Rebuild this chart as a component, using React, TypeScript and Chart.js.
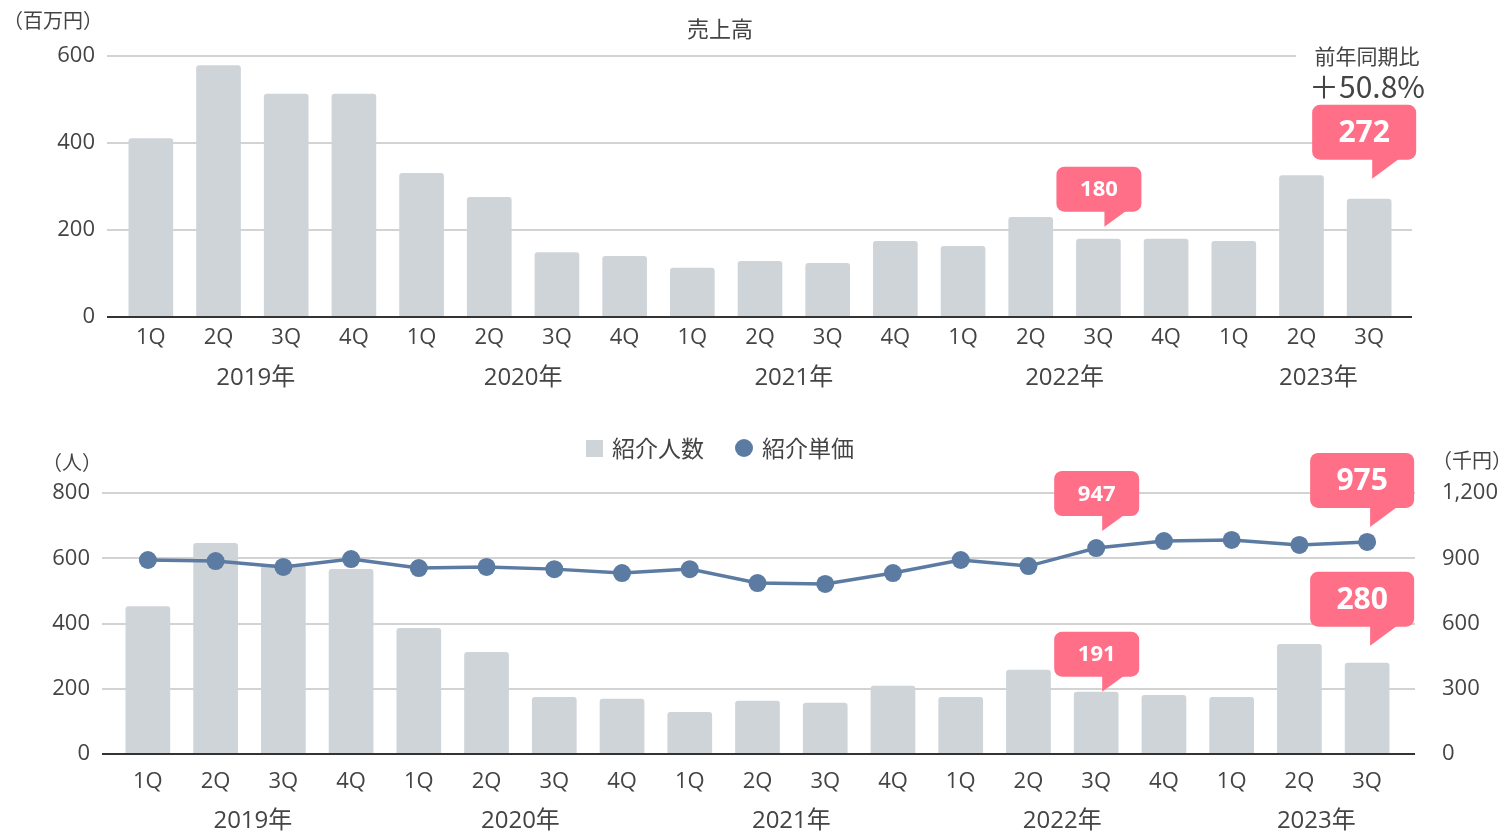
import React, { useEffect, useRef } from 'react';
import { Chart, registerables } from 'chart.js';

Chart.register(...registerables);

// ---------- data ----------
const quarters = ['1Q', '2Q', '3Q', '4Q', '1Q', '2Q', '3Q', '4Q', '1Q', '2Q', '3Q', '4Q', '1Q', '2Q', '3Q', '4Q', '1Q', '2Q', '3Q'];
const years = ['2019年', '2020年', '2021年', '2022年', '2023年'];
const yearCenters = [1.55, 5.5, 9.5, 13.5, 17.25];
const sales = [411, 579, 513, 513, 331, 276, 149, 140, 113, 129, 124, 175, 163, 230, 180, 180, 175, 326, 272];
const referrals = [453, 647, 582, 567, 386, 313, 175, 169, 129, 163, 157, 209, 175, 258, 191, 181, 175, 337, 280];
const unitPrice = [892, 887, 860, 896, 855, 860, 850, 832, 850, 786, 782, 832, 892, 864, 947, 979, 984, 961, 975];
const salesTicks = [0, 200, 400, 600];
const referralTicks = [0, 200, 400, 600, 800];
const priceTicks = [0, 300, 600, 900, 1200];

// ---------- style ----------
const FONT = '"Noto Sans CJK JP", "Noto Sans", sans-serif';
const NUM_FONT = '"Open Sans", "Noto Sans CJK JP", sans-serif';
const TEXT = '#444444';
const GRID = '#d3d3d3';
const AXIS = '#333333';
const BAR = '#cfd4d9';
const LINE = '#5b7ba2';
const PINK = '#ff6f88';

type Callout = { dataset: number; index: number; text: string; big: boolean; gap: number; dx: number };
type Label = { text: string; x: number; y: number; size: number; align?: CanvasTextAlign; bg?: number[]; family?: string };

function drawCallout(ctx: CanvasRenderingContext2D, x: number, y: number, text: string, big: boolean) {
  const w = big ? 104 : 85;
  const h = big ? 55 : 45;
  const ax = big ? 60 : 48;
  const drop = big ? 19 : 15;
  const tw = big ? 27 : 22;
  const left = x - ax;
  const bottom = y - drop;
  const top = bottom - h;
  ctx.save();
  ctx.fillStyle = PINK;
  ctx.beginPath();
  (ctx as any).roundRect(left, top, w, h, 8);
  ctx.fill();
  ctx.beginPath();
  ctx.moveTo(x, bottom - 1);
  ctx.lineTo(x, y);
  ctx.lineTo(x + tw, bottom - 1);
  ctx.closePath();
  ctx.fill();
  ctx.fillStyle = '#ffffff';
  ctx.font = `bold ${big ? 30 : 22}px ${NUM_FONT}`;
  ctx.textAlign = 'center';
  ctx.textBaseline = 'middle';
  ctx.fillText(text, left + w / 2, top + h / 2 + 1);
  ctx.restore();
}

function decoPlugin(cfg: {
  gridAxis: string;
  extL: number;
  extR: number;
  yearY: number;
  callouts: Callout[];
  labels: Label[];
  legend?: boolean;
  legendY?: number;
}) {
  return {
    id: 'deco',
    beforeDatasetsDraw(chart: any) {
      const { ctx, chartArea } = chart;
      const ys = chart.scales[cfg.gridAxis];
      ctx.save();
      ctx.strokeStyle = GRID;
      ctx.lineWidth = 2;
      for (const t of ys.ticks) {
        if (t.value === 0) continue;
        const py = Math.round(ys.getPixelForValue(t.value));
        ctx.beginPath();
        ctx.moveTo(chartArea.left - cfg.extL, py);
        ctx.lineTo(chartArea.right + cfg.extR, py);
        ctx.stroke();
      }
      ctx.restore();
    },
    afterDatasetsDraw(chart: any) {
      const { ctx, chartArea } = chart;
      const ys = chart.scales[cfg.gridAxis];
      const xs = chart.scales.x;
      // baseline
      ctx.save();
      ctx.strokeStyle = AXIS;
      ctx.lineWidth = 2;
      const by = Math.round(ys.getPixelForValue(0));
      ctx.beginPath();
      ctx.moveTo(chartArea.left - cfg.extL, by);
      ctx.lineTo(chartArea.right + cfg.extR, by);
      ctx.stroke();
      // year labels
      ctx.fillStyle = TEXT;
      ctx.font = `24px ${NUM_FONT}`;
      ctx.textAlign = 'center';
      ctx.textBaseline = 'middle';
      years.forEach((yr, i) => {
        ctx.fillText(yr, xs.getPixelForValue(yearCenters[i]), cfg.yearY);
      });
      // free labels
      for (const l of cfg.labels) {
        ctx.font = `${l.size}px ${l.family || FONT}`;
        if (l.bg) {
          ctx.fillStyle = '#ffffff';
          ctx.fillRect(l.bg[0], l.bg[1], l.bg[2], l.bg[3]);
        }
        ctx.fillStyle = TEXT;
        ctx.textAlign = l.align || 'center';
        ctx.fillText(l.text, l.x, l.y);
      }
      // legend
      if (cfg.legend) {
        const ly = cfg.legendY as number;
        ctx.fillStyle = BAR;
        ctx.fillRect(586, ly - 8, 17, 17);
        ctx.fillStyle = LINE;
        ctx.beginPath();
        ctx.arc(744, ly, 9, 0, Math.PI * 2);
        ctx.fill();
        ctx.fillStyle = TEXT;
        ctx.font = `23px ${FONT}`;
        ctx.textAlign = 'left';
        ctx.fillText(chart.data.datasets[1].label, 612, ly);
        ctx.fillText(chart.data.datasets[0].label, 762, ly);
      }
      ctx.restore();
      // callouts
      for (const c of cfg.callouts) {
        const el = chart.getDatasetMeta(c.dataset).data[c.index];
        drawCallout(ctx, el.x + c.dx, el.y - c.gap, c.text, c.big);
      }
    },
  };
}

const tickFont = { family: NUM_FONT, size: 22 };
const noGrid = { display: false, drawTicks: false };

export default function App() {
  const topRef = useRef<HTMLCanvasElement>(null);
  const botRef = useRef<HTMLCanvasElement>(null);

  useEffect(() => {
    const topChart = new Chart(topRef.current as HTMLCanvasElement, {
      type: 'bar',
      data: {
        labels: quarters,
        datasets: [
          {
            label: '売上高',
            data: sales,
            backgroundColor: BAR,
            borderRadius: { topLeft: 3, topRight: 3 },
            barPercentage: 0.66,
            categoryPercentage: 1,
          } as any,
        ],
      },
      options: {
        animation: false,
        responsive: false,
        layout: { padding: { top: 56, right: 102, left: 0, bottom: 0 } },
        plugins: { legend: { display: false }, tooltip: { enabled: false }, title: { display: false } },
        scales: {
          x: {
            offset: true,
            grid: noGrid,
            border: { display: false },
            ticks: { color: TEXT, font: tickFont, padding: 8, autoSkip: false, maxRotation: 0 },
            afterFit: (s: any) => { s.height = 83; },
          },
          y: {
            min: 0,
            max: 600,
            afterBuildTicks: (s: any) => { s.ticks = salesTicks.map((v) => ({ value: v })); },
            grid: noGrid,
            border: { display: false },
            ticks: { color: TEXT, font: tickFont, padding: 22 },
            afterFit: (s: any) => { s.width = 117; },
          },
        },
      },
      plugins: [
        decoPlugin({
          gridAxis: 'y',
          extL: 10,
          extR: 9,
          yearY: 378,
          callouts: [
            { dataset: 0, index: 14, text: '180', big: false, gap: 12, dx: 6 },
            { dataset: 0, index: 18, text: '272', big: true, gap: 20, dx: 3 },
          ],
          labels: [
            { text: '売上高', x: 720, y: 29, size: 22 },
            { text: '（百万円）', x: 53, y: 20, size: 20 },
            { text: '前年同期比', x: 1367, y: 56, size: 21, bg: [1296, 42, 140, 28] },
            { text: '＋50.8%', x: 1367, y: 87, size: 30 },
          ],
        }) as any,
      ],
    });

    const botChart = new Chart(botRef.current as HTMLCanvasElement, {
      type: 'bar',
      data: {
        labels: quarters,
        datasets: [
          {
            type: 'line',
            label: '紹介単価',
            data: unitPrice,
            yAxisID: 'y1',
            borderColor: LINE,
            backgroundColor: LINE,
            borderWidth: 3.5,
            pointRadius: 9,
            pointBackgroundColor: LINE,
            pointBorderWidth: 0,
            tension: 0,
            order: 0,
          } as any,
          {
            type: 'bar',
            label: '紹介人数',
            data: referrals,
            yAxisID: 'y',
            backgroundColor: BAR,
            borderRadius: { topLeft: 3, topRight: 3 },
            barPercentage: 0.66,
            categoryPercentage: 1,
            order: 1,
          } as any,
        ],
      },
      options: {
        animation: false,
        responsive: false,
        layout: { padding: { top: 83, right: 0, left: 0, bottom: 0 } },
        plugins: { legend: { display: false }, tooltip: { enabled: false }, title: { display: false } },
        scales: {
          x: {
            offset: true,
            grid: noGrid,
            border: { display: false },
            ticks: { color: TEXT, font: tickFont, padding: 15, autoSkip: false, maxRotation: 0 },
            afterFit: (s: any) => { s.height = 79; },
          },
          y: {
            position: 'left',
            min: 0,
            max: 800,
            afterBuildTicks: (s: any) => { s.ticks = referralTicks.map((v) => ({ value: v })); },
            grid: noGrid,
            border: { display: false },
            ticks: { color: TEXT, font: tickFont, padding: 24 },
            afterFit: (s: any) => { s.width = 114; },
          },
          y1: {
            position: 'right',
            min: 0,
            max: 1200,
            afterBuildTicks: (s: any) => { s.ticks = priceTicks.map((v) => ({ value: v })); },
            grid: noGrid,
            border: { display: false },
            ticks: {
              color: TEXT,
              font: tickFont,
              padding: 41,
              callback: (v: any) => Number(v).toLocaleString('en-US'),
            },
            afterFit: (s: any) => { s.width = 104; },
          },
        },
      },
      plugins: [
        decoPlugin({
          gridAxis: 'y',
          extL: 12,
          extR: 14,
          yearY: 411,
          legend: true,
          legendY: 38,
          callouts: [
            { dataset: 0, index: 14, text: '947', big: false, gap: 17, dx: 6 },
            { dataset: 0, index: 18, text: '975', big: true, gap: 15, dx: 3 },
            { dataset: 1, index: 14, text: '191', big: false, gap: 0, dx: 6 },
            { dataset: 1, index: 18, text: '280', big: true, gap: 17, dx: 3 },
          ],
          labels: [
            { text: '（人）', x: 72, y: 52, size: 20 },
            { text: '（千円）', x: 1472, y: 50, size: 20 },
          ],
        }) as any,
      ],
    });

    return () => {
      topChart.destroy();
      botChart.destroy();
    };
  }, []);

  return (
    <div style={{ position: 'absolute', left: 0, top: 0, width: 1505, height: 833, background: '#ffffff' }}>
      <canvas ref={topRef} width={1505} height={400} style={{ position: 'absolute', left: 0, top: 0 }} />
      <canvas ref={botRef} width={1505} height={423} style={{ position: 'absolute', left: 0, top: 410 }} />
    </div>
  );
}
